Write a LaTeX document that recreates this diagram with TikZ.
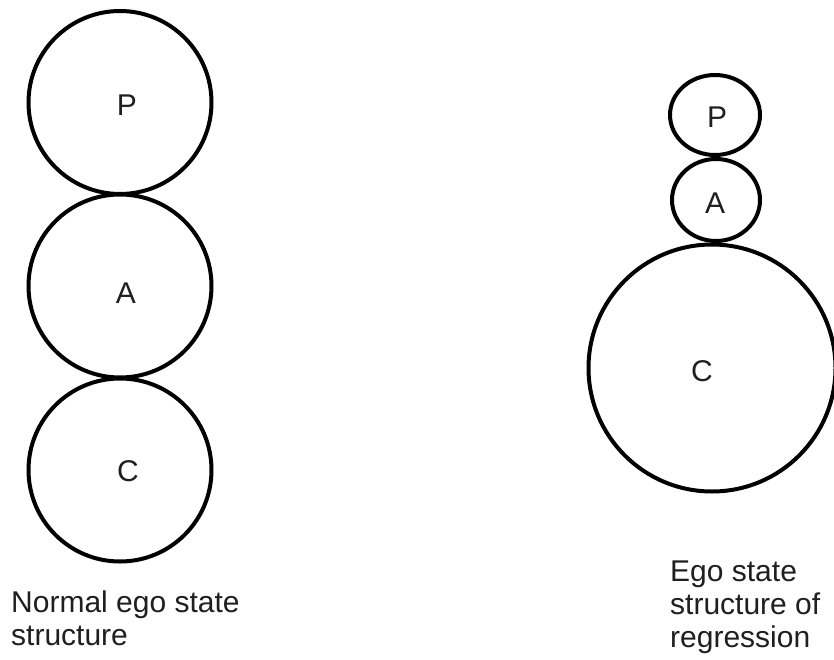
\documentclass[tikz,border=0pt]{standalone}
\usepackage{fontspec}
\setmainfont{Liberation Sans}
\usetikzlibrary{shapes.geometric}
\begin{document}
\begin{tikzpicture}[x=1pt,y=-1pt,
  ring/.style={draw=black,line width=4pt,inner sep=0pt,outer sep=0pt},
  circ/.style={ring,circle,minimum size=#1},
  oval/.style={ring,ellipse},
  lbl/.style={text=black!88,font=\fontsize{30}{33}\selectfont,inner sep=0pt},
  caption/.style={lbl,align=left,anchor=north west}]
\useasboundingbox[fill=white] (0,0) rectangle (834,660);
% normal ego state structure
\node[circ=183pt] (lp) at (120,102.5) {};
\node[circ=183pt] (la) at (120,286) {};
\node[circ=183pt] (lc) at (120,470) {};
\node[lbl] (lpt) at (127,105) {P};
\node[lbl] (lat) at (126,293) {A};
\node[lbl] (lct) at (128,471) {C};
\node[caption] (lcap) at (11,591) {Normal ego state\\structure};
% regression
\node[oval,minimum width=90pt,minimum height=80pt] (rp) at (715,115) {};
\node[oval,minimum width=88pt,minimum height=82pt] (ra) at (716,200) {};
\node[circ=247pt] (rc) at (712,368) {};
\node[lbl] (rpt) at (717,117) {P};
\node[lbl] (rat) at (715,203) {A};
\node[lbl] (rct) at (702,371) {C};
\node[caption] (rcap) at (670,561) {Ego state\\structure of\\regression};
\end{tikzpicture}
\end{document}
